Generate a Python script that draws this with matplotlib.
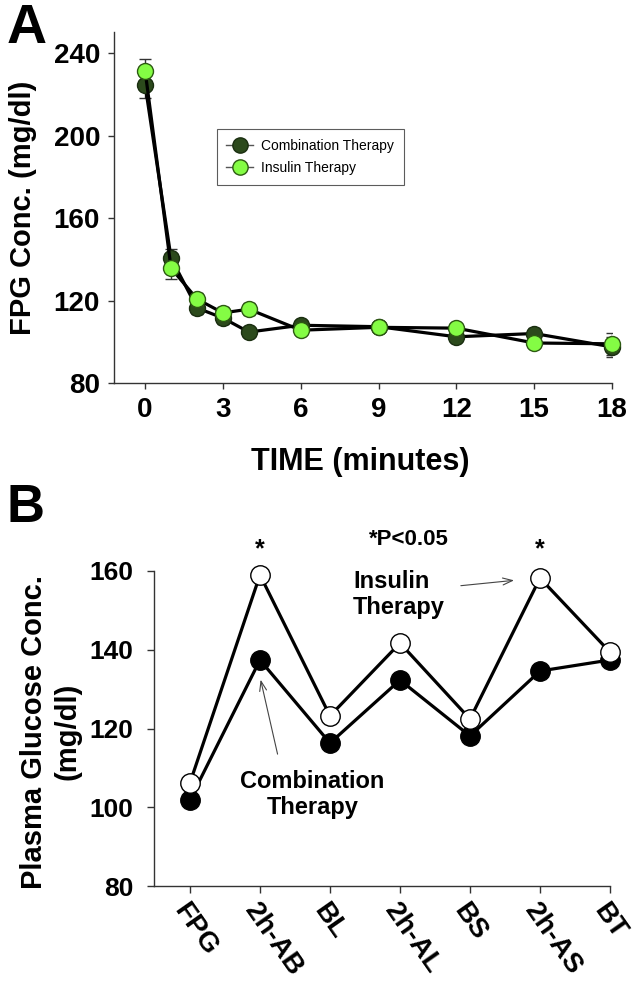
import matplotlib
matplotlib.use('Agg')
import matplotlib.pyplot as plt
from matplotlib.lines import Line2D

plt.rcParams['font.family'] = ['Liberation Sans', 'DejaVu Sans']

# Panel A: FPG during the first 18 minutes
time_min = [0, 1, 2, 3, 4, 6, 9, 12, 15, 18]
combo_fpg = [224.5, 140.6, 116.4, 111.5, 104.7, 108.0, 107.3, 102.4, 104.0, 97.5]
combo_err = [6.5, 4.5, 3, 3, 2.5, 2.5, 2.5, 2.5, 2.5, 5]
insulin_fpg = [231.3, 135.7, 120.7, 114.0, 115.8, 105.6, 107.0, 106.6, 99.4, 99.0]
insulin_err = [6, 5.5, 3, 3, 3, 2.5, 2.5, 2.5, 2.5, 5.3]

# Panel B: daily glucose profile
profile_labels = ['FPG', '2h-AB', 'BL', '2h-AL', 'BS', '2h-AS', 'BT']
combo_profile = [101.9, 137.4, 116.3, 132.3, 118.1, 134.6, 137.4]
insulin_profile = [106.2, 159.0, 123.2, 141.7, 122.4, 158.2, 139.4]
star_idx = [1, 5]

dark_green = '#2c4a1c'
light_green = '#84fc44'

fig = plt.figure(figsize=(6.32, 9.96), dpi=100)

# ---- Panel A ----
ax = fig.add_axes([114/632, 1-383/996, 498/632, 351/996])
ax.errorbar(time_min, combo_fpg, yerr=combo_err, fmt='none', ecolor='#333333',
            elinewidth=1, capsize=4, capthick=1, zorder=1)
ax.errorbar(time_min, insulin_fpg, yerr=insulin_err, fmt='none', ecolor='#333333',
            elinewidth=1, capsize=4, capthick=1, zorder=1)
ax.plot(time_min, combo_fpg, color='black', lw=2.3, marker='o', ms=11.5,
        mfc=dark_green, mec='#1a2e10', mew=1, zorder=2, clip_on=False)
ax.plot(time_min, insulin_fpg, color='black', lw=2.3, marker='o', ms=11.5,
        mfc=light_green, mec='#2d5a12', mew=1, zorder=3, clip_on=False)

ax.set_xlim(-1.2, 18)
ax.set_ylim(80, 250.2)
ax.set_xticks(range(0, 19, 3))
ax.set_yticks(range(80, 241, 40))
for s in ['top', 'right']:
    ax.spines[s].set_visible(False)
for s in ['left', 'bottom']:
    ax.spines[s].set_color('#333333')
    ax.spines[s].set_linewidth(1)
ax.tick_params(length=4, width=1, color='#333333', labelsize=20, pad=6)
for lab in ax.get_xticklabels() + ax.get_yticklabels():
    lab.set_fontweight('bold')
ax.set_xlabel('TIME (minutes)', fontsize=22, fontweight='bold')
ax.xaxis.set_label_coords(0.494, -0.182)
ax.set_ylabel('FPG Conc. (mg/dl)', fontsize=21, fontweight='bold')
ax.yaxis.set_label_coords(-0.155, 0.5)

handles = [
    Line2D([], [], color='#555555', lw=1, marker='o', ms=11, mfc=dark_green, mec='#1a2e10'),
    Line2D([], [], color='#555555', lw=1, marker='o', ms=11, mfc=light_green, mec='#2d5a12'),
]
leg = ax.legend(handles, ['Combination Therapy', 'Insulin Therapy'], loc='upper left',
                bbox_to_anchor=(0.198, 0.735), fontsize=10, frameon=True, fancybox=False,
                edgecolor='#333333', handlelength=1.9, handletextpad=0.6,
                borderpad=0.7, borderaxespad=0.3, labelspacing=0.6)
leg.get_frame().set_linewidth(0.8)

fig.text(7/632, 1-43/996, 'A', fontsize=40, fontweight='bold', va='baseline')

# ---- Panel B ----
bx = fig.add_axes([154/632, 1-886/996, 456/632, 315/996])
xpos = list(range(len(profile_labels)))
bx.plot(xpos, combo_profile, color='black', lw=2.3, marker='o', ms=14,
        mfc='black', mec='black', zorder=2, clip_on=False)
bx.plot(xpos, insulin_profile, color='black', lw=2.3, marker='o', ms=14,
        mfc='white', mec='black', mew=1, zorder=3, clip_on=False)
bx.set_xlim(-0.514, 6)
bx.set_ylim(80, 160)
bx.set_xticks(xpos)
bx.set_xticklabels(profile_labels)
bx.set_yticks(range(80, 161, 20))
for s in ['top', 'right']:
    bx.spines[s].set_visible(False)
for s in ['left', 'bottom']:
    bx.spines[s].set_color('#333333')
    bx.spines[s].set_linewidth(1)
bx.tick_params(length=5, width=1, color='#333333', labelsize=19)
bx.tick_params(axis='y', pad=10)
bx.tick_params(axis='x', pad=4)
for lab in bx.get_yticklabels():
    lab.set_fontweight('bold')
for lab in bx.get_xticklabels():
    lab.set_fontweight('bold')
    lab.set_fontsize(20)
    lab.set_rotation(-55)
    lab.set_ha('left')
    lab.set_va('top')
    lab.set_rotation_mode('anchor')
bx.set_ylabel('Plasma Glucose Conc.\n(mg/dl)', fontsize=21, fontweight='bold', linespacing=1.25)
bx.yaxis.set_label_coords(-0.16, 0.49)

for i in star_idx:
    bx.text(i, 163.8, '*', fontsize=18, fontweight='bold', ha='center', va='baseline', clip_on=False)
bx.text(3.13, 166.6, '*P<0.05', fontsize=16, fontweight='bold', ha='center', va='baseline', clip_on=False)

bx.text(2.33, 160.3, 'Insulin\nTherapy', fontsize=17, fontweight='bold', ha='left', va='top')
bx.annotate('', xy=(4.67, 157.7), xytext=(3.83, 156.2),
            arrowprops=dict(arrowstyle='->,head_length=0.7,head_width=0.25', color='#444444', lw=0.8))
bx.text(1.75, 109.5, 'Combination\nTherapy', fontsize=17, fontweight='bold', ha='center', va='top')
bx.annotate('', xy=(1.0, 133.1), xytext=(1.26, 112.8),
            arrowprops=dict(arrowstyle='->,head_length=0.7,head_width=0.25', color='#444444', lw=0.8))

fig.text(7/632, 1-522/996, 'B', fontsize=38, fontweight='bold', va='baseline')

fig.savefig('out.png', dpi=100)
